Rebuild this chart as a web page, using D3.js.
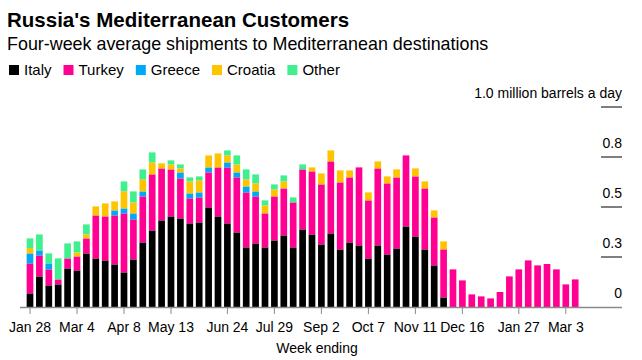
<!DOCTYPE html>
<html>
<head>
<meta charset="utf-8">
<script src="https://cdn.jsdelivr.net/npm/d3@7"></script>
<style>
  html, body { margin: 0; padding: 0; background: #fff; }
  svg { display: block; font-family: "Liberation Sans", Arial, Helvetica, sans-serif; }
</style>
</head>
<body>
<svg id="chart" width="642" height="360"></svg>
<script>
// ---- data ----
const weeks = ["Jan 28","Feb 4","Feb 11","Feb 18","Feb 25","Mar 4","Mar 11","Mar 18","Mar 25","Apr 1",
  "Apr 8","Apr 15","Apr 22","Apr 29","May 6","May 13","May 20","May 27","Jun 3","Jun 10",
  "Jun 17","Jun 24","Jul 1","Jul 8","Jul 15","Jul 22","Jul 29","Aug 5","Aug 12","Aug 19",
  "Aug 26","Sep 2","Sep 9","Sep 16","Sep 23","Sep 30","Oct 7","Oct 14","Oct 21","Oct 28",
  "Nov 4","Nov 11","Nov 18","Nov 25","Dec 2","Dec 9","Dec 16","Dec 23","Dec 30","Jan 6",
  "Jan 13","Jan 20","Jan 27","Feb 3","Feb 10","Feb 17","Feb 24","Mar 3","Mar 10"];

const italy = [0.068,0.153,0.108,0.113,0.193,0.183,0.268,0.243,0.233,0.213,
  0.173,0.238,0.323,0.383,0.433,0.453,0.443,0.418,0.423,0.498,
  0.453,0.418,0.373,0.298,0.318,0.298,0.333,0.358,0.298,0.388,
  0.363,0.313,0.368,0.288,0.323,0.308,0.243,0.308,0.263,0.293,
  0.403,0.353,0.288,0.208,0.048,0,0,0,0,0,
  0,0,0,0,0,0,0,0,0];
const turkey = [0.15,0.105,0.08,0.025,0.05,0.07,0.075,0.215,0.22,0.245,
  0.295,0.2,0.23,0.28,0.26,0.235,0.2,0.125,0.125,0.175,
  0.245,0.28,0.275,0.275,0.235,0.17,0.22,0.235,0.225,0.3,
  0.315,0.3,0.36,0.335,0.325,0.39,0.29,0.385,0.355,0.355,
  0.355,0.3,0.305,0.24,0.24,0.188,0.133,0.063,0.053,0.043,
  0.075,0.153,0.188,0.233,0.208,0.215,0.188,0.113,0.138];
const greece = [0.05,0.025,0.03,0,0,0,0,0,0,0.025,
  0.025,0.03,0.025,0,0,0,0.03,0.025,0.025,0.025,
  0,0.025,0.025,0.03,0.025,0,0,0,0,0,
  0,0,0,0,0,0,0,0,0,0,
  0,0,0,0,0,0,0,0,0,0,
  0,0,0,0,0,0,0,0,0];
const croatia = [0.027,0,0,0,0,0.02,0.02,0.045,0.065,0.045,
  0.085,0.055,0.06,0.06,0.025,0.025,0.02,0.06,0.06,0.06,
  0.07,0.035,0.04,0.035,0.04,0.04,0.035,0.035,0,0,
  0.02,0.055,0.055,0.06,0.035,0,0.04,0.035,0.035,0.04,
  0,0.04,0.035,0.035,0.04,0,0,0,0,0,
  0,0,0,0,0,0,0,0,0];
const other = [0.048,0.08,0.05,0.105,0.075,0.055,0.05,0,0,0,
  0.05,0.055,0.05,0.05,0,0.02,0.02,0.02,0.02,0,
  0,0.025,0.045,0.05,0.045,0.025,0.025,0.03,0.025,0.025,
  0,0,0,0,0,0,0,0,0,0,
  0,0,0,0,0,0,0,0,0,0,
  0,0,0,0,0,0,0,0,0];

const seriesNames = ["Italy","Turkey","Greece","Croatia","Other"];
const seriesColors = ["#000000","#ff0092","#00a8f5","#ffc400","#40f08e"];
const xTickLabels = ["Jan 28","Mar 4","Apr 8","May 13","Jun 24","Jul 29","Sep 2","Oct 7","Nov 11","Dec 16","Jan 27","Mar 3"];
const yTicks = [0, 0.25, 0.5, 0.75, 1.0];
const yTickLabels = ["0","0.3","0.5","0.8","1.0 million barrels a day"];

// ---- build ----
const svg = d3.select("#chart");
const valuesBySeries = [italy, turkey, greece, croatia, other];
const rows = weeks.map((w, i) => {
  const r = { week: w };
  seriesNames.forEach((s, k) => r[s] = valuesBySeries[k][i]);
  return r;
});

const x = d3.scaleBand().domain(weeks).range([25.3, 579.9]).paddingInner(0.29).paddingOuter(0.145);
const y = d3.scaleLinear().domain([0, 1]).range([307, 107]);
const color = d3.scaleOrdinal().domain(seriesNames).range(seriesColors);

// title
svg.append("text").attr("x", 7).attr("y", 27)
  .attr("font-size", 20.5).attr("font-weight", "bold").attr("fill", "#000")
  .text("Russia's Mediterranean Customers");
svg.append("text").attr("x", 7).attr("y", 50)
  .attr("font-size", 17.9).attr("fill", "#000")
  .text("Four-week average shipments to Mediterranean destinations");

// legend
const legend = svg.append("g");
let lx = 9;
seriesNames.forEach(name => {
  legend.append("rect").attr("x", lx).attr("y", 65).attr("width", 10).attr("height", 10).attr("fill", color(name));
  const t = legend.append("text").attr("x", lx + 15).attr("y", 75).attr("font-size", 15).attr("fill", "#000").text(name);
  lx = lx + 15 + t.node().getComputedTextLength() + 12;
});

// y gridline stubs and labels
const yg = svg.append("g");
yTicks.forEach((v, i) => {
  if (v > 0) {
    yg.append("line").attr("x1", 601).attr("x2", 622).attr("y1", y(v)).attr("y2", y(v))
      .attr("stroke", "#000").attr("stroke-width", 1);
  }
  yg.append("text").attr("x", 622).attr("y", y(v) - 9.5).attr("text-anchor", "end")
    .attr("font-size", 14).attr("fill", "#000").text(yTickLabels[i]);
});

// bars
const stack = d3.stack().keys(seriesNames)(rows);
svg.append("g").selectAll("g").data(stack).join("g")
  .attr("fill", d => color(d.key))
  .selectAll("rect").data(d => d.filter(p => p[1] - p[0] > 0)).join("rect")
  .attr("x", d => x(d.data.week))
  .attr("width", x.bandwidth())
  .attr("y", d => y(d[1]))
  .attr("height", d => y(d[0]) - y(d[1]));

// x axis
const xa = svg.append("g");
xa.append("line").attr("x1", 20).attr("x2", 622).attr("y1", 307.5).attr("y2", 307.5)
  .attr("stroke", "#8a8a8a").attr("stroke-width", 1.5);
xTickLabels.forEach(lbl => {
  const cx = x(lbl) + x.bandwidth() / 2;
  xa.append("line").attr("x1", cx).attr("x2", cx).attr("y1", 308).attr("y2", 314)
    .attr("stroke", "#8a8a8a").attr("stroke-width", 1);
  xa.append("text").attr("x", cx).attr("y", 332).attr("text-anchor", "middle")
    .attr("font-size", 14).attr("fill", "#000").text(lbl);
});
svg.append("text").attr("x", 317).attr("y", 353).attr("text-anchor", "middle")
  .attr("font-size", 14).attr("fill", "#000").text("Week ending");
</script>
</body>
</html>
